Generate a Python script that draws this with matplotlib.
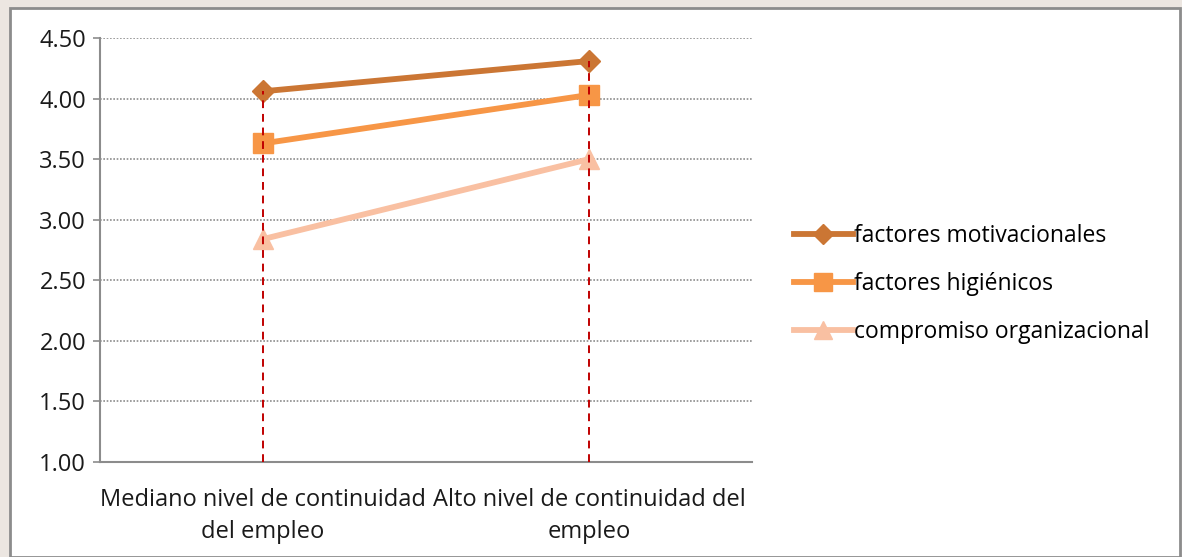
import matplotlib.pyplot as plt
from matplotlib.patches import Rectangle

categories = ['Mediano nivel de continuidad\ndel empleo', 'Alto nivel de continuidad del\nempleo']
motivacionales = [4.06, 4.31]
higienicos = [3.63, 4.03]
compromiso = [2.84, 3.50]
y_ticks = [1.00, 1.50, 2.00, 2.50, 3.00, 3.50, 4.00, 4.50]

plt.rcParams['font.family'] = ['Open Sans', 'DejaVu Sans']

fig = plt.figure(figsize=(11.82, 5.57), dpi=100)
fig.patch.set_facecolor('#ece6e1')

# white chart box with grey border
fig.patches.append(Rectangle((10 / 1182, 0), 1170 / 1182, 1 - 8 / 557,
                             transform=fig.transFigure, facecolor='white',
                             edgecolor='#8c8c8c', linewidth=2, zorder=-10))

ax = fig.add_axes([100 / 1182, 1 - 462 / 557, 652 / 1182, 424 / 557])
ax.set_facecolor('none')

x = [0, 1]
series = [
    (motivacionales, '#CB7634', 'D', 11.5, 'factores motivacionales'),
    (higienicos, '#F79646', 's', 14, 'factores higiénicos'),
    (compromiso, '#F9C0A2', '^', 15, 'compromiso organizacional'),
]
for vals, color, marker, ms, label in series:
    ax.plot(x, vals, color=color, linewidth=4.2, marker=marker, markersize=ms,
            markeredgecolor=color, label=label, zorder=3)

# drop lines
tops = [max(v) for v in zip(motivacionales, higienicos, compromiso)]
ax.vlines(x, 1.0, tops, colors='#C00000', linestyles=(0, (4, 3)), linewidth=1.4, zorder=4)

ax.set_xlim(-0.5, 1.5)
ax.set_ylim(1.0, 4.5)
ax.set_yticks(y_ticks)
ax.set_yticklabels([f'{t:.2f}' for t in y_ticks], fontsize=17, color='#1a1a1a')
ax.set_xticks(x)
ax.set_xticklabels(categories, fontsize=17, color='#1a1a1a', linespacing=1.4)
ax.tick_params(axis='x', length=0, pad=19)
ax.tick_params(axis='y', length=5, color='#8c8c8c', width=1.2, pad=5)

for t in y_ticks[1:]:
    ax.axhline(t, color='#8c8c8c', linestyle=(0, (1, 1)), linewidth=1.2, zorder=1)

for side in ['top', 'right']:
    ax.spines[side].set_visible(False)
ax.spines['left'].set_color('#8c8c8c')
ax.spines['bottom'].set_color('#8c8c8c')
ax.spines['left'].set_linewidth(1.5)
ax.spines['bottom'].set_linewidth(1.5)

fig.legend(loc='center left', bbox_to_anchor=(773 / 1182, 1 - 284 / 557),
           frameon=False, fontsize=16.5, handlelength=2.6, handletextpad=0.05,
           labelspacing=1.05, markerscale=0.9)

plt.savefig('out.png', dpi=100, facecolor=fig.get_facecolor())
